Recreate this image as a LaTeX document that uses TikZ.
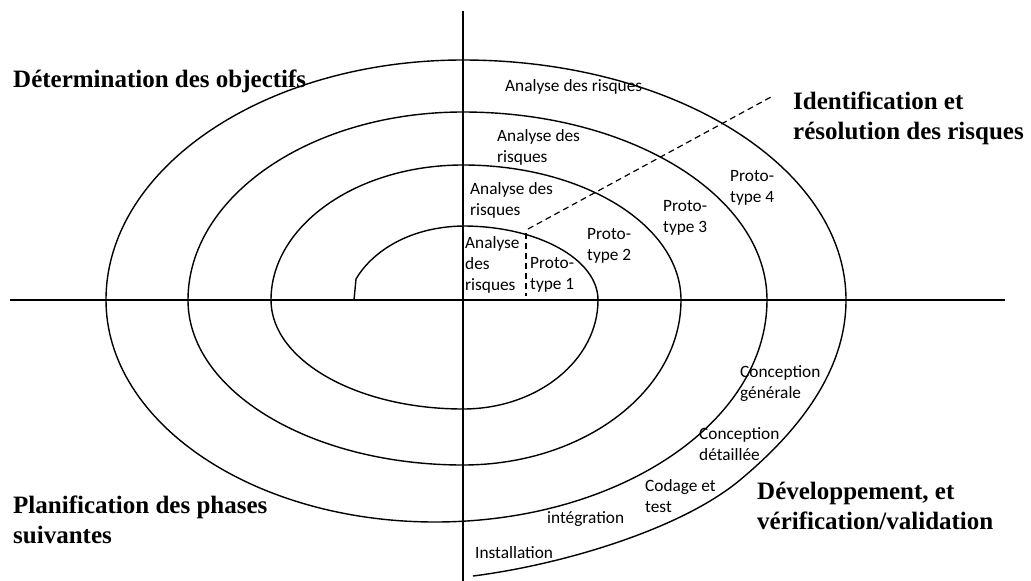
\documentclass[tikz,border=0pt]{standalone}
\usepackage{fontspec}
\setmainfont{Liberation Serif}
\newfontfamily\lblfont{Carlito}
\begin{document}
\begin{tikzpicture}[x=1pt,y=-1pt,
  spiral/.style={line width=1.4pt, line join=round},
  axisline/.style={line width=1.4pt},
  guide/.style={line width=1.2pt, dash pattern=on 6pt off 4pt},
  title/.style={font=\fontsize{25}{30}\selectfont\bfseries, anchor=base west, inner sep=0pt, align=left},
  lbl/.style={font=\lblfont\fontsize{17.3}{21}\selectfont, anchor=base west, inner sep=0pt, align=left}]
\useasboundingbox (0,0) rectangle (1031,581);
\fill[white] (0,0) rectangle (1031,581);

% axes
\coordinate (hl) at (10,300);
\coordinate (hr) at (1005,300);
\coordinate (vt) at (463,11);
\coordinate (vb) at (463,581);
\draw[axisline] (hl) -- (hr);
\draw[axisline] (vt) -- (vb);

% spiral, built from quarter ellipses meeting on the axes
\draw[spiral] (354,300) -- (356,279) .. controls (370,255) and (405,227) .. (463,226)
  arc[start angle=270, end angle=360, x radius=135, y radius=74]
  arc[start angle=0,   end angle=90,  x radius=135, y radius=109]
  arc[start angle=90,  end angle=180, x radius=192, y radius=109]
  arc[start angle=180, end angle=270, x radius=192, y radius=135]
  arc[start angle=270, end angle=360, x radius=218, y radius=135]
  arc[start angle=0,   end angle=90,  x radius=218, y radius=165]
  arc[start angle=90,  end angle=180, x radius=275, y radius=165]
  arc[start angle=180, end angle=270, x radius=275, y radius=188]
  arc[start angle=270, end angle=360, x radius=304, y radius=188]
  arc[start angle=0,   end angle=90,  x radius=332, y radius=222]
  arc[start angle=90,  end angle=180, x radius=329, y radius=222]
  arc[start angle=180, end angle=270, x radius=357, y radius=240]
  arc[start angle=270, end angle=360, x radius=383, y radius=240]
  .. controls (846,370) and (800,430) .. (740,480)
  .. controls (680,530) and (560,565) .. (473,576);

% risk analysis guides
\coordinate (g1) at (528,229);
\coordinate (g2) at (771,97);
\coordinate (g3) at (526,233);
\coordinate (g4) at (526,296);
\draw[guide] (g1) -- (g2);
\draw[guide] (g3) -- (g4);

% quadrant titles (anchored on the baseline of their last line)
\node[title] (obj) at (13,87) {Détermination des objectifs};
\node[title] (ident) at (793,139) {Identification et\\résolution des risques};
\node[title] (plan) at (13,543) {Planification des phases\\suivantes};
\node[title] (dev) at (757,529) {Développement, et\\vérification/validation};

% labels along the spiral (anchored on the baseline of their last line)
\node[lbl] (ar4) at (505,91) {Analyse des risques};
\node[lbl] (ar3) at (497,162) {Analyse des\\risques};
\node[lbl] (ar2) at (470,215) {Analyse des\\risques};
\node[lbl] (ar1) at (465,290) {Analyse\\des\\risques};
\node[lbl] (p1) at (530,289) {Proto-\\type 1};
\node[lbl] (p2) at (587,260) {Proto-\\type 2};
\node[lbl] (p3) at (663,232) {Proto-\\type 3};
\node[lbl] (p4) at (730,202) {Proto-\\type 4};
\node[lbl] (cg) at (740,398) {Conception\\générale};
\node[lbl] (cd) at (699,460) {Conception\\détaillée};
\node[lbl] (ct) at (645,512) {Codage et\\test};
\node[lbl] (int) at (547,523) {intégration};
\node[lbl] (inst) at (475,558) {Installation};
\end{tikzpicture}
\end{document}
